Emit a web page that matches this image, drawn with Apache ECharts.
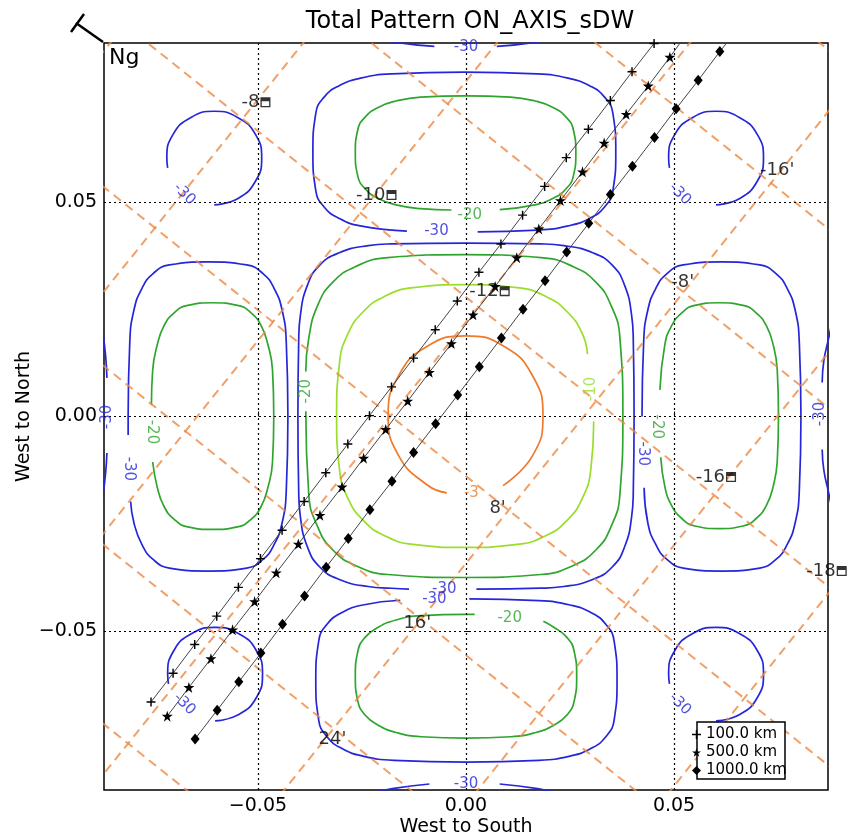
<!DOCTYPE html>
<html><head><meta charset="utf-8">
<script src="https://cdn.jsdelivr.net/npm/echarts@6/dist/echarts.min.js"></script>
<style>html,body{margin:0;padding:0;background:#fff}#c{width:859px;height:839px}</style>
</head><body><div id="c"></div>
<script>
// ---------- data ----------
const xTickValues = [-0.05, 0, 0.05];
const yTickValues = [-0.05, 0, 0.05];

// contour level -3
const cM3Center = [[0.0089,-0.0161],[0.0160,-0.0091],[0.0185,0.0002],[0.0160,0.0095],[0.0092,0.0163],[-0.0001,0.0188],[-0.0094,0.0163],[-0.0162,0.0095],[-0.0187,0.0002],[-0.0162,-0.0091],[-0.0094,-0.0159],[-0.0046,-0.0178]];
// contour level -10
const cM10Center = [[0.0307,-0.0011],[0.0300,-0.0123],[0.0279,-0.0192],[0.0243,-0.0242],[0.0193,-0.0277],[0.0123,-0.0298],[-0.0002,-0.0305],[-0.0127,-0.0298],[-0.0197,-0.0277],[-0.0247,-0.0242],[-0.0283,-0.0192],[-0.0304,-0.0123],[-0.0311,0.0001],[-0.0304,0.0125],[-0.0283,0.0194],[-0.0247,0.0244],[-0.0197,0.0279],[-0.0127,0.0300],[-0.0002,0.0307],[0.0123,0.0300],[0.0193,0.0279],[0.0243,0.0244],[0.0279,0.0194],[0.0292,0.0145]];
// contour level -20
const cM20Center = [[-0.0385,0.0012],[-0.0378,-0.0180],[-0.0356,-0.0258],[-0.0320,-0.0311],[-0.0266,-0.0347],[-0.0188,-0.0368],[-0.0004,-0.0375],[0.0180,-0.0368],[0.0258,-0.0347],[0.0312,-0.0311],[0.0348,-0.0258],[0.0370,-0.0180],[0.0377,0.0001],[0.0370,0.0182],[0.0348,0.0260],[0.0312,0.0313],[0.0258,0.0349],[0.0180,0.0370],[-0.0004,0.0377],[-0.0188,0.0370],[-0.0266,0.0349],[-0.0320,0.0313],[-0.0356,0.0260],[-0.0378,0.0182],[-0.0385,0.0105]];
const cM20Left = [[-0.0753,-0.0106],[-0.0742,-0.0165],[-0.0726,-0.0209],[-0.0702,-0.0239],[-0.0669,-0.0257],[-0.0609,-0.0263],[-0.0549,-0.0257],[-0.0516,-0.0239],[-0.0492,-0.0209],[-0.0476,-0.0165],[-0.0465,-0.0106],[-0.0462,0.0001],[-0.0465,0.0108],[-0.0476,0.0167],[-0.0492,0.0211],[-0.0516,0.0241],[-0.0549,0.0259],[-0.0609,0.0265],[-0.0669,0.0259],[-0.0702,0.0241],[-0.0726,0.0211],[-0.0742,0.0167],[-0.0753,0.0108],[-0.0756,0.0027]];
const cM20Right = [[0.0468,-0.0095],[0.0478,-0.0164],[0.0494,-0.0207],[0.0518,-0.0237],[0.0550,-0.0255],[0.0608,-0.0261],[0.0666,-0.0255],[0.0698,-0.0237],[0.0722,-0.0207],[0.0738,-0.0164],[0.0748,-0.0105],[0.0751,0.0002],[0.0748,0.0109],[0.0738,0.0168],[0.0722,0.0211],[0.0698,0.0241],[0.0666,0.0259],[0.0608,0.0265],[0.0550,0.0259],[0.0518,0.0241],[0.0494,0.0211],[0.0478,0.0168],[0.0466,0.0062]];
const cM20Top = [[0.0081,0.0482],[0.0166,0.0493],[0.0209,0.0508],[0.0240,0.0530],[0.0258,0.0560],[0.0264,0.0614],[0.0258,0.0668],[0.0240,0.0698],[0.0209,0.0720],[0.0166,0.0735],[0.0107,0.0744],[-0.0001,0.0747],[-0.0109,0.0744],[-0.0168,0.0735],[-0.0211,0.0720],[-0.0242,0.0698],[-0.0260,0.0668],[-0.0266,0.0614],[-0.0260,0.0560],[-0.0242,0.0530],[-0.0211,0.0508],[-0.0168,0.0493],[-0.0109,0.0484],[-0.0035,0.0481]];
const cM20Bottom = [[0.0186,-0.0477],[0.0211,-0.0491],[0.0242,-0.0514],[0.0260,-0.0547],[0.0266,-0.0605],[0.0260,-0.0663],[0.0242,-0.0696],[0.0211,-0.0719],[0.0168,-0.0736],[0.0108,-0.0746],[0.0000,-0.0749],[-0.0108,-0.0746],[-0.0168,-0.0736],[-0.0211,-0.0719],[-0.0242,-0.0696],[-0.0260,-0.0663],[-0.0266,-0.0605],[-0.0260,-0.0547],[-0.0242,-0.0514],[-0.0211,-0.0491],[-0.0168,-0.0474],[-0.0108,-0.0464],[0.0000,-0.0461],[0.0021,-0.0461]];
// contour level -30
const cM30Center = [[0.0025,-0.0402],[0.0179,-0.0400],[0.0235,-0.0396],[0.0306,-0.0379],[0.0352,-0.0350],[0.0381,-0.0304],[0.0398,-0.0234],[0.0402,-0.0178],[0.0404,0.0001],[0.0402,0.0180],[0.0398,0.0236],[0.0381,0.0306],[0.0352,0.0352],[0.0306,0.0381],[0.0235,0.0398],[0.0179,0.0402],[0.0000,0.0404],[-0.0179,0.0402],[-0.0235,0.0398],[-0.0306,0.0381],[-0.0352,0.0352],[-0.0381,0.0306],[-0.0398,0.0236],[-0.0402,0.0180],[-0.0404,0.0001],[-0.0402,-0.0178],[-0.0398,-0.0234],[-0.0381,-0.0304],[-0.0352,-0.0350],[-0.0306,-0.0379],[-0.0235,-0.0396],[-0.0179,-0.0400],[-0.0137,-0.0402]];
const cM30Left = [[-0.0806,-0.0198],[-0.0798,-0.0248],[-0.0779,-0.0298],[-0.0752,-0.0333],[-0.0713,-0.0353],[-0.0620,-0.0360],[-0.0527,-0.0353],[-0.0488,-0.0333],[-0.0461,-0.0298],[-0.0442,-0.0248],[-0.0432,-0.0174],[-0.0428,0],[-0.0432,0.0174],[-0.0442,0.0248],[-0.0461,0.0298],[-0.0488,0.0333],[-0.0527,0.0353],[-0.0620,0.0360],[-0.0713,0.0353],[-0.0752,0.0333],[-0.0779,0.0298],[-0.0798,0.0248],[-0.0808,0.0174],[-0.0812,0],[-0.0812,-0.0043]];
const cM30Right = [[0.0428,-0.0166],[0.0437,-0.0248],[0.0456,-0.0298],[0.0483,-0.0333],[0.0522,-0.0353],[0.0614,-0.0360],[0.0706,-0.0353],[0.0745,-0.0333],[0.0772,-0.0298],[0.0791,-0.0248],[0.0801,-0.0174],[0.0805,0],[0.0801,0.0174],[0.0791,0.0248],[0.0772,0.0298],[0.0745,0.0333],[0.0706,0.0353],[0.0614,0.0360],[0.0522,0.0353],[0.0483,0.0333],[0.0456,0.0298],[0.0437,0.0248],[0.0427,0.0174],[0.0423,0]];
const cM30Top = [[0.0028,0.0430],[0.0171,0.0434],[0.0246,0.0444],[0.0298,0.0462],[0.0333,0.0488],[0.0353,0.0526],[0.0360,0.0616],[0.0353,0.0706],[0.0333,0.0744],[0.0298,0.0770],[0.0246,0.0788],[0.0171,0.0798],[-0.0004,0.0802],[-0.0179,0.0798],[-0.0254,0.0788],[-0.0306,0.0770],[-0.0341,0.0744],[-0.0361,0.0706],[-0.0368,0.0616],[-0.0361,0.0526],[-0.0341,0.0488],[-0.0306,0.0462],[-0.0254,0.0444],[-0.0142,0.0432]];
const cM30Bottom = [[0.0008,-0.0425],[0.0175,-0.0429],[0.0250,-0.0439],[0.0301,-0.0457],[0.0336,-0.0484],[0.0356,-0.0523],[0.0363,-0.0615],[0.0356,-0.0707],[0.0336,-0.0746],[0.0301,-0.0773],[0.0250,-0.0791],[0.0175,-0.0801],[0.0001,-0.0805],[-0.0173,-0.0801],[-0.0248,-0.0791],[-0.0299,-0.0773],[-0.0334,-0.0746],[-0.0354,-0.0707],[-0.0361,-0.0615],[-0.0354,-0.0523],[-0.0334,-0.0484],[-0.0299,-0.0457],[-0.0248,-0.0439],[-0.0158,-0.0428]];
const cM30TL = [[-0.0605,0.0493],[-0.0548,0.0508],[-0.0506,0.0548],[-0.0491,0.0602],[-0.0506,0.0657],[-0.0548,0.0696],[-0.0605,0.0711],[-0.0662,0.0696],[-0.0704,0.0657],[-0.0719,0.0602],[-0.0717,0.0579]];
const cM30TR = [[0.0601,0.0493],[0.0658,0.0508],[0.0700,0.0548],[0.0715,0.0602],[0.0700,0.0657],[0.0658,0.0696],[0.0601,0.0711],[0.0544,0.0696],[0.0502,0.0657],[0.0487,0.0602],[0.0489,0.0579]];
const cM30BL = [[-0.0603,-0.0709],[-0.0546,-0.0694],[-0.0504,-0.0655],[-0.0489,-0.0600],[-0.0504,-0.0545],[-0.0546,-0.0506],[-0.0603,-0.0491],[-0.0660,-0.0506],[-0.0702,-0.0545],[-0.0717,-0.0600],[-0.0715,-0.0623]];
const cM30BR = [[0.0601,-0.0709],[0.0658,-0.0694],[0.0700,-0.0655],[0.0715,-0.0600],[0.0700,-0.0545],[0.0658,-0.0506],[0.0601,-0.0491],[0.0544,-0.0506],[0.0502,-0.0545],[0.0487,-0.0600],[0.0489,-0.0623]];
const cM30EdgeL1 = [[-0.0880,0.0235],[-0.0872,0.0190],[-0.0866,0.0140],[-0.0863,0.0090]];
const cM30EdgeL2 = [[-0.0863,-0.0085],[-0.0866,-0.0130],[-0.0872,-0.0180],[-0.0880,-0.0225]];
const cM30EdgeR1 = [[0.0880,0.0220],[0.0871,0.0180],[0.0860,0.0130],[0.0856,0.0079]];
const cM30EdgeR2 = [[0.0856,-0.0077],[0.0860,-0.0125],[0.0871,-0.0175],[0.0880,-0.0215]];
const cM30EdgeT1 = [[-0.0230,0.0885],[-0.0172,0.0872],[-0.0076,0.0862]];
const cM30EdgeT2 = [[0.0074,0.0862],[0.0170,0.0872],[0.0228,0.0885]];
const cM30EdgeB1 = [[-0.0235,-0.0880],[-0.0177,-0.0867],[-0.0088,-0.0856]];
const cM30EdgeB2 = [[0.0081,-0.0856],[0.0172,-0.0867],[0.0230,-0.0880]];

// contour labels: text, x, y, rotation
const contourLabels = [
  ['-3', 0.0013, -0.0178, 0],
  ['-10', 0.0300, 0.0064, 90],
  ['-20', -0.0384, 0.0059, 90],
  ['-20', -0.0755, -0.0036, -90],
  ['-30', -0.0810, -0.0122, -90],
  ['-30', 0.0425, -0.0087, -90],
  ['-20', 0.0459, -0.0024, -90],
  ['-30', -0.0071, 0.0432, 0],
  ['-20', 0.0009, 0.0469, 0],
  ['-30', -0.0052, -0.0402, 0],
  ['-30', -0.0076, -0.0425, 0],
  ['-20', 0.0105, -0.0469, 0],
  ['-30', -0.0677, 0.0518, -45],
  ['-30', 0.0514, 0.0518, -45],
  ['-30', -0.0677, -0.0670, -45],
  ['-30', 0.0514, -0.0670, -45],
  ['-30', -0.0863, -0.0001, 90],
  ['-30', 0.0851, 0.0006, 90],
  ['-30', 0.0000, 0.0861, 0],
  ['-30', 0.0000, -0.0856, 0]
];

// projected grid lines (orange dashed), as end points
const gridLinesA = [
  [[-0.11,0.2379],[0.11,0.0677]],[[-0.11,0.1962],[0.11,0.0260]],[[-0.11,0.1545],[0.11,-0.0157]],
  [[-0.11,0.1129],[0.11,-0.0573]],[[-0.11,0.0712],[0.11,-0.0990]],[[-0.11,0.0295],[0.11,-0.1407]],
  [[-0.11,-0.0122],[0.11,-0.1824]],[[-0.11,-0.0539],[0.11,-0.2241]]
];
const gridLinesB = [
  [[-0.2485,-0.11],[-0.0665,0.11]],[[-0.2021,-0.11],[-0.0201,0.11]],[[-0.1556,-0.11],[0.0264,0.11]],
  [[-0.1092,-0.11],[0.0728,0.11]],[[-0.0627,-0.11],[0.1193,0.11]],[[-0.0162,-0.11],[0.1658,0.11]],
  [[0.0302,-0.11],[0.2122,0.11]]
];
const gridLineLabels = [["-16'", 0.0748, 0.0574], ["-8'", 0.0521, 0.0313], ["8'", 0.0076, -0.0215], ["16'", -0.0117, -0.0481], ["24'", -0.0321, -0.0751]];

// stations
const stationX = [-0.0482, -0.0179, 0.0093, 0.0637, 0.0903];
const stationY = [0.0732, 0.0516, 0.0292, -0.0141, -0.0360];
const stationVal = [-8, -10, -12, -16, -18];

// tracks
const track100 = [[-0.0757,-0.0665],[-0.0704,-0.0598],[-0.0652,-0.0531],[-0.0599,-0.0465],[-0.0547,-0.0398],[-0.0494,-0.0331],[-0.0442,-0.0265],[-0.0389,-0.0198],[-0.0337,-0.0131],[-0.0284,-0.0064],[-0.0232,0.0002],[-0.0179,0.0069],[-0.0126,0.0136],[-0.0074,0.0202],[-0.0021,0.0269],[0.0031,0.0336],[0.0084,0.0402],[0.0136,0.0469],[0.0189,0.0536],[0.0241,0.0603],[0.0294,0.0669],[0.0347,0.0736],[0.0399,0.0803],[0.0452,0.0869]];
const track500 = [[-0.0718,-0.0698],[-0.0666,-0.0631],[-0.0613,-0.0564],[-0.0561,-0.0497],[-0.0508,-0.0431],[-0.0456,-0.0364],[-0.0403,-0.0297],[-0.0351,-0.0230],[-0.0298,-0.0164],[-0.0246,-0.0097],[-0.0193,-0.0030],[-0.0140,0.0036],[-0.0088,0.0103],[-0.0035,0.0170],[0.0017,0.0237],[0.0070,0.0303],[0.0122,0.0370],[0.0175,0.0437],[0.0227,0.0503],[0.0280,0.0570],[0.0332,0.0637],[0.0385,0.0704],[0.0438,0.0770],[0.0490,0.0837]];
const track500End = [0.0516, 0.0872];
const track1000 = [[-0.0651,-0.0751],[-0.0598,-0.0684],[-0.0546,-0.0618],[-0.0493,-0.0551],[-0.0441,-0.0484],[-0.0388,-0.0418],[-0.0336,-0.0351],[-0.0283,-0.0284],[-0.0231,-0.0217],[-0.0178,-0.0151],[-0.0126,-0.0084],[-0.0073,-0.0017],[-0.0020,0.0050],[0.0032,0.0116],[0.0085,0.0183],[0.0137,0.0250],[0.0190,0.0316],[0.0242,0.0383],[0.0295,0.0450],[0.0347,0.0517],[0.0400,0.0583],[0.0453,0.0650],[0.0505,0.0717],[0.0558,0.0783],[0.0610,0.0850]];
const track1000End = [0.0628, 0.0872];
const trackNames = ['100.0 km', '500.0 km', '1000.0 km'];

// ---------- styles ----------
const FONT = 'DejaVu Sans';
const levelColors = {'-3': '#ee7b2c', '-10': '#9ade2a', '-20': '#2ea52e', '-30': '#2626d8'};
const contourSegments = [
  ['-3', cM3Center], ['-10', cM10Center],
  ['-20', cM20Center], ['-20', cM20Left], ['-20', cM20Right], ['-20', cM20Top], ['-20', cM20Bottom],
  ['-30', cM30Center], ['-30', cM30Left], ['-30', cM30Right], ['-30', cM30Top], ['-30', cM30Bottom],
  ['-30', cM30TL], ['-30', cM30TR], ['-30', cM30BL], ['-30', cM30BR],
  ['-30', cM30EdgeL1], ['-30', cM30EdgeL2], ['-30', cM30EdgeR1], ['-30', cM30EdgeR2],
  ['-30', cM30EdgeT1], ['-30', cM30EdgeT2], ['-30', cM30EdgeB1], ['-30', cM30EdgeB2]
];
const plusPath = 'path://M4.2,0H5.8V4.2H10V5.8H5.8V10H4.2V5.8H0V4.2H4.2Z';
const starPath = 'path://M50,0L61.2,34.5H97.6L68.2,55.9L79.4,90.5L50,69.1L20.6,90.5L31.8,55.9L2.4,34.5H38.8Z';
const stationPath = 'path://M0,0H10V10H0Z M1.3,4V8.7H8.7V4Z';

const series = [];
// dotted reference grid
series.push({
  type: 'line', data: [], silent: true, z: 1,
  markLine: {
    silent: true, symbol: ['none', 'none'], label: {show: false}, animation: false,
    lineStyle: {type: [2, 3], color: '#000', width: 1.2},
    data: xTickValues.map(v => ({xAxis: v})).concat(yTickValues.map(v => ({yAxis: v})))
  }
});
// orange dashed projected grid
gridLinesA.concat(gridLinesB).forEach(seg => {
  series.push({
    type: 'line', data: seg, silent: true, showSymbol: false, z: 3,
    lineStyle: {color: 'rgba(236,136,66,0.8)', width: 2, type: [9, 6]}
  });
});
// contours
contourSegments.forEach(([lvl, pts]) => {
  series.push({
    type: 'line', data: pts, smooth: 0.5, silent: true, showSymbol: false, z: 2,
    lineStyle: {color: levelColors[lvl], width: 1.7}
  });
});
// contour labels
series.push({
  type: 'scatter', silent: true, symbolSize: 0, z: 5, clip: false,
  data: contourLabels.map(([t, x, y, r]) => ({
    value: [x, y], name: t,
    label: {show: true, position: 'inside', formatter: t, rotate: r, color: levelColors[t], fontSize: 15, fontFamily: FONT}
  }))
});
// projected grid labels
series.push({
  type: 'scatter', silent: true, symbolSize: 0, z: 6, clip: false,
  data: gridLineLabels.map(([t, x, y]) => ({value: [x, y], name: t})),
  label: {show: true, position: 'inside', formatter: p => p.name, color: '#000', fontSize: 18, fontFamily: FONT}
});
// tracks
const trackSymbols = [plusPath, starPath, 'diamond'];
const trackSizes = [9, 11, [9, 11]];
const trackData = [
  track100,
  track500.concat([{value: track500End, symbol: 'none'}]),
  track1000.concat([{value: track1000End, symbol: 'none'}])
];
trackNames.forEach((nm, i) => {
  series.push({
    name: nm, type: 'line', data: trackData[i], silent: true, z: 7,
    symbol: trackSymbols[i], symbolSize: trackSizes[i], showSymbol: true, showAllSymbol: true,
    itemStyle: {color: '#000'}, lineStyle: {color: '#444', width: 1}
  });
});
// stations
series.push({
  type: 'scatter', silent: true, z: 8, clip: false,
  symbol: stationPath, symbolSize: 10, itemStyle: {color: '#000'},
  data: stationX.map((x, i) => [x, stationY[i], stationVal[i]]),
  label: {show: true, position: 'left', distance: 1, formatter: p => String(p.value[2]), color: '#000', fontSize: 18, fontFamily: FONT}
});

const fmt = v => (v < 0 ? '\u2212' : '') + Math.abs(v).toFixed(2);

const chart = echarts.init(document.getElementById('c'), null, {renderer: 'canvas'});
chart.setOption({
  animation: false,
  backgroundColor: '#fff',
  textStyle: {fontFamily: FONT},
  title: {
    text: 'Total Pattern ON_AXIS_sDW', left: 465, textAlign: 'center', top: 5,
    textStyle: {fontSize: 24, fontWeight: 'normal', color: '#000', fontFamily: FONT}
  },
  grid: {left: 104, top: 43, width: 724, height: 747, outerBoundsMode: 'none', containLabel: false,
         show: true, borderColor: '#000', borderWidth: 1.5, backgroundColor: 'transparent'},
  xAxis: {
    type: 'value', min: -0.087, max: 0.087,
    name: 'West to South', nameLocation: 'middle', nameGap: 28, nameMoveOverlap: false,
    nameTextStyle: {fontSize: 19, color: '#000', fontFamily: FONT},
    axisLine: {show: false},
    axisTick: {show: true, inside: true, length: 5, customValues: xTickValues, lineStyle: {color: '#000'}},
    axisLabel: {customValues: xTickValues, formatter: fmt, fontSize: 19, color: '#000', margin: 7, fontFamily: FONT},
    splitLine: {show: false}
  },
  yAxis: {
    type: 'value', min: -0.087, max: 0.087,
    name: 'West to North', nameLocation: 'middle', nameGap: 70, nameMoveOverlap: false,
    nameTextStyle: {fontSize: 19, color: '#000', fontFamily: FONT},
    axisLine: {show: false},
    axisTick: {show: true, inside: true, length: 5, customValues: yTickValues, lineStyle: {color: '#000'}},
    axisLabel: {customValues: yTickValues, formatter: fmt, fontSize: 19, color: '#000', margin: 7, fontFamily: FONT},
    splitLine: {show: false}
  },
  legend: {
    orient: 'vertical', left: 692, top: 725, z: 20, selectedMode: false,
    padding: [2, 2, 2, 0], itemGap: 3, itemWidth: 9, itemHeight: 9,
    textStyle: {fontSize: 15, color: '#000', fontFamily: FONT},
    data: [
      {name: trackNames[0], icon: plusPath},
      {name: trackNames[1], icon: starPath},
      {name: trackNames[2], icon: 'diamond'}
    ]
  },
  graphic: [
    {type: 'rect', z: 15, shape: {x: 697, y: 722, width: 88, height: 57}, style: {fill: '#fff', stroke: '#000', lineWidth: 1.5}},
    {type: 'text', z: 15, left: 109, top: 47, style: {text: 'Ng', fontSize: 22, fill: '#000', fontFamily: FONT}},
    {type: 'line', z: 15, shape: {x1: 103, y1: 42, x2: 76, y2: 23}, style: {stroke: '#000', lineWidth: 2.5}},
    {type: 'line', z: 15, shape: {x1: 71, y1: 32, x2: 84, y2: 14}, style: {stroke: '#000', lineWidth: 2.5}}
  ],
  series: series
});
</script>
</body></html>
